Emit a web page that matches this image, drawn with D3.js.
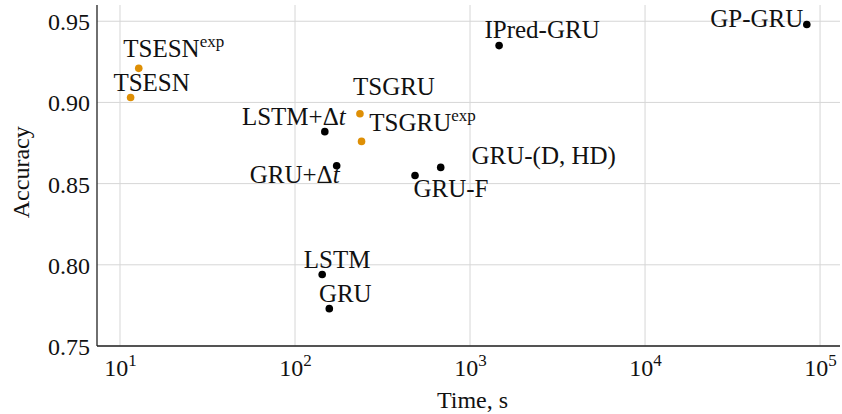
<!DOCTYPE html>
<html>
<head>
<meta charset="utf-8">
<script src="https://cdn.jsdelivr.net/npm/d3@7"></script>
<style>
  body { margin: 0; background: #fff; }
  text { font-family: "Liberation Serif", "DejaVu Serif", serif; fill: #111; }
</style>
</head>
<body>
<div id="chart"></div>
<script>
// models, training time (s) and accuracy
var names = ["TSESN", "TSESN^exp", "TSGRU", "TSGRU^exp", "LSTM+Δt", "GRU+Δt",
             "LSTM", "GRU", "GRU-F", "GRU-(D, HD)", "IPred-GRU", "GP-GRU"];
var times = [11.5, 12.8, 235, 240, 148, 173, 143, 157, 485, 680, 1466, 84000];
var accuracy = [0.903, 0.921, 0.893, 0.876, 0.882, 0.861, 0.794, 0.773, 0.855, 0.860, 0.935, 0.948];
var ours = [true, true, true, true, false, false, false, false, false, false, false, false];
var yTicks = [0.75, 0.80, 0.85, 0.90, 0.95];
var xTicks = [1e1, 1e2, 1e3, 1e4, 1e5];

// label offsets from the point (px), label centred
var labelDx = [21, 35, 34, 61, -31, -42, 15, 16, 36, 103, 43, -50];
var labelDy = [-7, -11, -19, -10, -7, 17, -7, -7, 21, -3, -8, 3];

var w = 842, h = 414;
var margin = {left: 97, right: 2, top: 5, bottom: 68};
var orange = "#de8f05";
var fs = "25px";

var svg = d3.select("#chart").append("svg")
    .attr("width", w)
    .attr("height", h);

var x = d3.scaleLog()
    .domain([7.39, 1.3e5])
    .range([margin.left, w - margin.right]);

var y = d3.scaleLinear()
    .domain([0.75, 0.96])
    .range([h - margin.bottom, margin.top]);

// grid
svg.append("g").selectAll("line")
    .data(xTicks)
    .enter()
    .append("line")
    .attr("x1", function(d) { return x(d); })
    .attr("x2", function(d) { return x(d); })
    .attr("y1", y(0.96))
    .attr("y2", y(0.75))
    .attr("stroke", "#d6d6d6")
    .attr("stroke-width", 1);

svg.append("g").selectAll("line")
    .data(yTicks)
    .enter()
    .append("line")
    .attr("x1", x.range()[0])
    .attr("x2", x.range()[1])
    .attr("y1", function(d) { return y(d); })
    .attr("y2", function(d) { return y(d); })
    .attr("stroke", "#d6d6d6")
    .attr("stroke-width", 1);

// axes: no tick marks, only labels
var yAxis = d3.axisLeft(y).tickValues(yTicks).tickSize(0).tickPadding(7)
    .tickFormat(d3.format(".2f"));
var gy = svg.append("g")
    .attr("transform", "translate(" + margin.left + ",0)")
    .call(yAxis);
gy.select(".domain").remove();
gy.selectAll("text")
    .attr("font-family", "Liberation Serif, serif")
    .attr("font-size", "24px")
    .attr("dy", "0.35em")
    .attr("fill", "#111");

var xAxis = d3.axisBottom(x).tickValues(xTicks).tickSize(0).tickPadding(0)
    .tickFormat(function() { return ""; });
var gx = svg.append("g")
    .attr("transform", "translate(0," + (h - margin.bottom) + ")")
    .call(xAxis);
gx.select(".domain").remove();
gx.selectAll(".tick text").each(function(d) {
    var t = d3.select(this)
        .attr("font-size", "24px")
        .attr("y", 30)
        .attr("dy", 0)
        .attr("fill", "#111");
    t.append("tspan").text("10");
    t.append("tspan").text(Math.round(Math.log10(d)))
        .attr("font-size", "17px")
        .attr("dy", -10);
});

// spines
svg.append("line")
    .attr("x1", margin.left).attr("x2", margin.left)
    .attr("y1", margin.top).attr("y2", h - margin.bottom)
    .attr("stroke", "#222").attr("stroke-width", 1.3);
svg.append("line")
    .attr("x1", margin.left).attr("x2", w - margin.right)
    .attr("y1", h - margin.bottom).attr("y2", h - margin.bottom)
    .attr("stroke", "#222").attr("stroke-width", 1.3);

// axis titles
svg.append("text")
    .attr("x", x(Math.sqrt(7.39 * 1.3e5)) + 4)
    .attr("y", h - 6)
    .attr("text-anchor", "middle")
    .attr("font-size", "24px")
    .text("Time, s");

svg.append("text")
    .attr("transform", "translate(29," + y(0.857) + ") rotate(-90)")
    .attr("text-anchor", "middle")
    .attr("font-size", "24px")
    .text("Accuracy");

// points
var idx = d3.range(names.length);

svg.append("g").selectAll("circle")
    .data(idx)
    .enter()
    .append("circle")
    .attr("cx", function(i) { return x(times[i]); })
    .attr("cy", function(i) { return y(accuracy[i]); })
    .attr("r", 3.8)
    .attr("fill", function(i) { return ours[i] ? orange : "#000"; });

// labels
svg.append("g").selectAll("text")
    .data(idx)
    .enter()
    .append("text")
    .attr("x", function(i) { return x(times[i]) + labelDx[i]; })
    .attr("y", function(i) { return y(accuracy[i]) + labelDy[i]; })
    .attr("text-anchor", "middle")
    .attr("font-size", fs)
    .each(function(i) {
        var t = d3.select(this);
        var name = names[i];
        if (name.indexOf("^") >= 0) {
            var parts = name.split("^");
            t.append("tspan").text(parts[0]);
            t.append("tspan").text(parts[1])
                .attr("font-size", "17px")
                .attr("dy", -10);
        } else if (name.indexOf("Δt") >= 0) {
            t.append("tspan").text(name.replace("t", ""));
            t.append("tspan").text("t").attr("font-style", "italic");
        } else {
            t.text(name);
        }
    });
</script>
</body>
</html>
